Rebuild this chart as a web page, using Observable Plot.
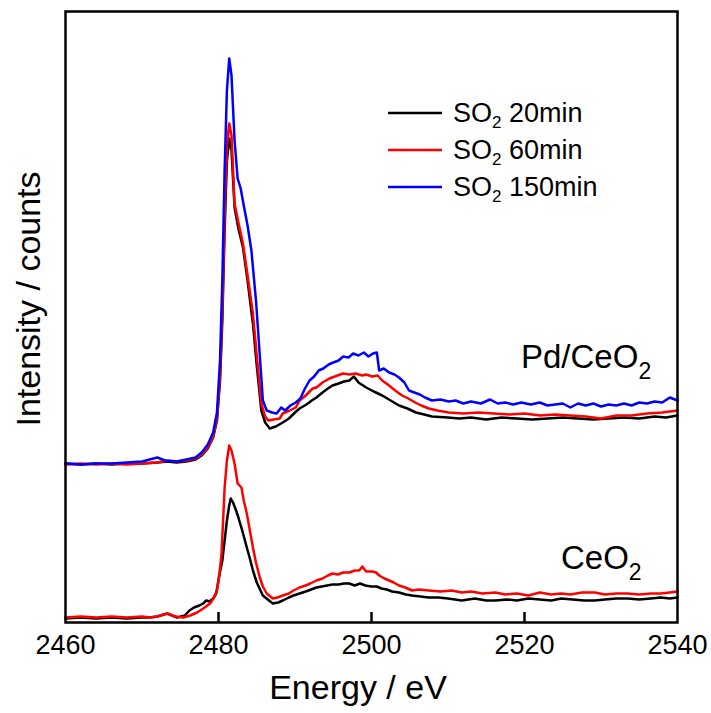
<!DOCTYPE html>
<html>
<head>
<meta charset="utf-8">
<script src="https://cdn.jsdelivr.net/npm/d3@7"></script>
<script src="https://cdn.jsdelivr.net/npm/@observablehq/plot@0.6"></script>
<style>
  html, body { margin: 0; padding: 0; background: #fff; overflow: hidden; }
  #chart svg { display: block; }
</style>
</head>
<body>
<div id="chart"></div>
<script>
// Energy (eV) vs intensity (arbitrary counts, offset spectra)
const pdSO2_20 = [[2460,159],[2462,158],[2464,159],[2466,158],[2468,159],[2470,159],[2472,160],[2473.3,161],[2474.5,160],[2475.8,161],[2477,163],[2477.8,167],[2478.6,174],[2479.3,185],[2479.8,202],[2480.2,242],[2480.5,302],[2480.8,392],[2481.1,462],[2481.4,484],[2481.7,472],[2482.1,415],[2482.6,394],[2483.2,375],[2483.8,342],[2484.5,299],[2485.0,257],[2485.6,212],[2486.1,200],[2486.7,194],[2487.5,196],[2488.4,200],[2489.2,204],[2490.0,210],[2490.6,214],[2491.5,218],[2492.2,222],[2492.8,225],[2493.6,230],[2494.3,234],[2494.9,237],[2495.7,239],[2496.4,241],[2497.1,242],[2497.7,246],[2498.3,240],[2499.3,235],[2500.3,231],[2501.4,227],[2502.5,222],[2503.6,217],[2504.7,214],[2505.8,210],[2506.9,208],[2507.9,206],[2510,205],[2511.5,204],[2513,205],[2515,203],[2517,205],[2519,204],[2521,203],[2523,204],[2525,205],[2527,204],[2529,203],[2531,204],[2533,205],[2535,204],[2537,206],[2538.5,205],[2540,207]];

const pdSO2_60 = [[2460,158],[2462,159],[2464,158],[2466,159],[2468,158],[2470,159],[2472,160],[2473.3,162],[2474.5,161],[2475.8,162],[2477,164],[2477.8,168],[2478.6,175],[2479.3,186],[2479.8,204],[2480.2,247],[2480.5,312],[2480.8,407],[2481.1,477],[2481.4,499],[2481.7,487],[2482.1,419],[2482.6,400],[2483.2,379],[2483.8,347],[2484.5,309],[2485.0,267],[2485.6,219],[2486.1,206],[2486.5,202],[2487.2,203],[2488.0,204],[2488.4,209],[2489.3,212],[2490.1,215],[2490.6,222],[2491.4,227],[2492.3,234],[2492.8,235],[2493.6,240],[2494.5,244],[2495.2,246],[2496.3,249],[2497.1,248],[2497.9,249],[2498.8,247],[2499.3,248],[2500.1,246],[2500.8,247],[2501.4,242],[2502.3,237],[2503.1,232],[2504.0,227],[2504.8,224],[2505.7,220],[2506.5,217],[2507.5,214],[2508.6,212],[2510.1,210],[2512,209],[2514,210],[2516,209],[2518,208],[2520,209],[2522,207],[2524,208],[2526,207],[2528,206],[2530,204],[2532,207],[2534,207],[2536,209],[2538,210],[2540,212]];

const pdSO2_150 = [[2460,159],[2462,158],[2464,159],[2466,159],[2468,160],[2470,161],[2472,165],[2473,162],[2474.5,161],[2475.8,163],[2477,165],[2477.8,170],[2478.6,178],[2479.3,190],[2479.8,210],[2480.2,262],[2480.5,342],[2480.8,452],[2481.1,532],[2481.4,564],[2481.7,547],[2482.1,482],[2482.5,444],[2482.9,434],[2483.3,417],[2483.8,397],[2484.3,372],[2484.9,322],[2485.4,267],[2485.8,222],[2486.3,212],[2487.0,210],[2487.6,209],[2488.2,215],[2488.7,212],[2489.4,217],[2490.1,220],[2490.7,224],[2491.3,234],[2491.9,242],[2492.5,246],[2493.1,252],[2493.7,254],[2494.4,258],[2495.0,260],[2495.7,262],[2496.3,266],[2497.0,265],[2497.6,269],[2498.3,267],[2499.0,270],[2499.6,266],[2500.2,269],[2500.7,270],[2501.0,252],[2501.6,254],[2502.3,250],[2503.0,248],[2503.6,245],[2504.3,240],[2504.9,232],[2505.6,230],[2506.3,228],[2507.0,225],[2507.9,222],[2509,223],[2510.1,221],[2511,222],[2512,219],[2513,221],[2514.3,219],[2515.5,223],[2516.5,219],[2517.5,220],[2518.5,218],[2519.6,220],[2520.8,218],[2522,220],[2523,217],[2524,218],[2525,219],[2526,215],[2527,219],[2528,217],[2529,219],[2530,216],[2531,218],[2532,217],[2533,219],[2534,217],[2535,220],[2536,219],[2537,221],[2538,220],[2539,225],[2540,222]];

const ceSO2_20 = [[2460,4],[2462,5],[2464,4],[2466,5],[2468,4],[2470,5],[2471,5],[2472,6],[2473.3,9],[2474.6,5],[2475.6,7],[2476.2,12],[2476.8,15],[2477.5,17],[2478.0,19],[2478.4,22],[2478.8,21],[2479.3,24],[2479.7,29],[2480.1,47],[2480.5,62],[2480.8,82],[2481.1,102],[2481.4,117],[2481.6,124],[2481.9,120],[2482.3,112],[2482.6,105],[2483.1,92],[2483.7,75],[2484.1,64],[2484.5,52],[2485.0,40],[2485.8,27],[2486.6,22],[2487.1,19],[2487.8,20],[2488.4,22],[2489.2,25],[2489.8,27],[2490.6,29],[2491.4,31],[2492.1,33],[2492.8,35],[2493.5,36],[2494.2,37],[2494.9,38],[2495.7,38],[2496.4,39],[2497.1,39],[2497.8,37],[2498.5,39],[2499.2,37],[2500.0,36],[2500.7,36],[2501.3,34],[2502.0,33],[2502.7,31],[2503.6,30],[2504.5,28],[2505.3,27],[2506.4,26],[2507.5,25],[2508.7,25],[2510,24],[2511.8,22],[2513.5,24],[2515,22],[2516.2,22],[2517.7,23],[2519,22],[2520.5,24],[2522,23],[2523.5,22],[2524.8,24],[2526.3,23],[2527.8,22],[2529.2,22],[2530.5,23],[2532,24],[2533.5,24],[2535,23],[2536.5,24],[2537.8,25],[2539,24],[2540,25]];

const ceSO2_60 = [[2460,5],[2462,6],[2464,5],[2466,6],[2468,5],[2470,6],[2471,5],[2472,6],[2473.3,9],[2474.3,6],[2475.4,5],[2476.3,7],[2477.2,10],[2478,14],[2478.9,19],[2479.4,25],[2479.8,32],[2480.1,47],[2480.4,69],[2480.6,102],[2480.8,135],[2481.1,162],[2481.4,177],[2481.7,172],[2482.1,159],[2482.5,139],[2483.0,135],[2483.3,122],[2483.7,109],[2484.1,92],[2484.5,75],[2484.9,60],[2485.4,45],[2485.8,36],[2486.3,29],[2487.1,24],[2487.7,25],[2488.4,27],[2489.2,29],[2489.8,32],[2490.6,35],[2491.4,37],[2492.0,39],[2492.8,42],[2493.6,44],[2494.3,47],[2494.9,49],[2495.6,48],[2496.3,50],[2497.1,50],[2497.8,52],[2498.4,52],[2498.8,56],[2499.3,51],[2500.1,51],[2500.6,50],[2501.0,47],[2501.7,44],[2502.3,42],[2502.9,40],[2503.6,37],[2504.4,35],[2505.3,32],[2506.2,33],[2507.5,32],[2509,31],[2510.5,32],[2511.8,30],[2513,31],[2514.5,29],[2516.2,30],[2517.5,28],[2519,29],[2520.5,27],[2522,30],[2523.5,28],[2524.8,29],[2526,28],[2527.5,30],[2529.2,30],[2530.5,28],[2532,29],[2533.5,29],[2535,28],[2536.5,29],[2537.8,29],[2539,30],[2540,31]];

const seriesNames = ["20min", "60min", "150min"];
const seriesColors = ["#000000", "#ff0000", "#0000ff"];
const xTickValues = [2460, 2480, 2500, 2520, 2540];
const innerTickValues = [2480, 2500, 2520];
const sampleLabels = ["Pd/CeO", "CeO"];

const rows = [];
const add = (arr, sample, series) => arr.forEach(([e, v]) => rows.push({e, v, sample, series}));
add(pdSO2_20, "Pd", "20min");
add(pdSO2_60, "Pd", "60min");
add(pdSO2_150, "Pd", "150min");
add(ceSO2_20, "Ce", "20min");
add(ceSO2_60, "Ce", "60min");

const W = 711, H = 713;
const M = {top: 11, right: 34, bottom: 91, left: 65};
const chart = Plot.plot({
  width: W,
  height: H,
  marginLeft: M.left,
  marginRight: M.right,
  marginTop: M.top,
  marginBottom: M.bottom,
  style: {fontFamily: "'Liberation Sans', Arial, sans-serif", color: "#000", background: "#fff"},
  x: {domain: [2460, 2540]},
  y: {domain: [0, 611]},
  color: {domain: seriesNames, range: seriesColors},
  marks: [
    Plot.axisX({ticks: xTickValues, tickSize: 0, tickPadding: 12, fontSize: 27, label: null, tickFormat: d => String(d)}),
    Plot.axisY({ticks: [], label: null, tickSize: 0}),
    Plot.line(rows, {x: "e", y: "v", z: d => d.sample + d.series, stroke: "series", strokeWidth: 2.5, curve: "linear"}),
    Plot.ruleX(innerTickValues, {x: d => d, insetTop: 601, stroke: "#000", strokeWidth: 2.5}),
    Plot.frame({stroke: "#000", strokeWidth: 2.5})
  ]
});
document.getElementById("chart").appendChild(chart);

const svg = d3.select(chart);
const font = "'Liberation Sans', Arial, sans-serif";

// axis titles
svg.append("text").attr("x", 358).attr("y", 699).attr("text-anchor", "middle")
  .attr("font-family", font).attr("font-size", 34).attr("fill", "#000").text("Energy / eV");
svg.append("text").attr("transform", "translate(40,299) rotate(-90)").attr("text-anchor", "middle")
  .attr("font-family", font).attr("font-size", 34).attr("fill", "#000").text("Intensity / counts");

// legend
const legendY = [113, 150, 187];
seriesNames.forEach((name, i) => {
  svg.append("line").attr("x1", 388).attr("x2", 442).attr("y1", legendY[i]).attr("y2", legendY[i])
    .attr("stroke", seriesColors[i]).attr("stroke-width", 2.5);
  const t = svg.append("text").attr("x", 453).attr("y", legendY[i] + 9).attr("text-anchor", "start")
    .attr("font-family", font).attr("font-size", 27).attr("fill", "#000");
  t.append("tspan").text("SO");
  t.append("tspan").attr("font-size", 17).attr("dy", 6).text("2");
  t.append("tspan").attr("dy", -6).text(" " + name);
});

// sample labels
const sampleLabelPos = [[521, 368], [561, 569]];
sampleLabels.forEach((s, i) => {
  const t = svg.append("text").attr("x", sampleLabelPos[i][0]).attr("y", sampleLabelPos[i][1]).attr("text-anchor", "start")
    .attr("font-family", font).attr("font-size", 33).attr("fill", "#000");
  t.append("tspan").text(s);
  t.append("tspan").attr("font-size", 23).attr("dy", 11).text("2");
});
</script>
</body>
</html>
